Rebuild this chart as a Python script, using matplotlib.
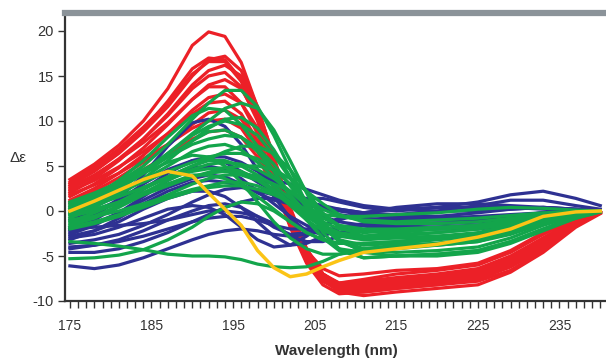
import matplotlib.pyplot as plt
from matplotlib.ticker import MultipleLocator

wavelength = [175, 178, 181, 184, 187, 190, 192, 194, 196, 198, 200, 202,
              204, 206, 208, 211, 215, 220, 225, 229, 233, 237, 240]

red_spectra = [
    [3.5, 5.2, 7.3, 10.0, 13.6, 18.4, 19.9, 19.4, 16.5, 11.5, 5.0, -1.0, -5.2, -7.6, -8.6, -8.5, -8.0, -7.6, -7.0, -5.6, -3.6, -1.4, -0.2],
    [2.8, 4.4, 6.4, 8.8, 11.6, 15.0, 16.8, 17.2, 15.6, 11.6, 5.8, -0.2, -4.6, -7.4, -8.8, -9.0, -8.6, -8.2, -7.8, -6.6, -4.4, -1.6, -0.2],
    [3.2, 4.9, 6.9, 9.3, 12.0, 15.2, 16.6, 16.6, 14.4, 10.2, 4.4, -1.2, -5.4, -7.8, -8.8, -8.6, -8.2, -7.8, -7.2, -5.8, -3.6, -1.2, 0.0],
    [2.0, 3.6, 5.6, 8.0, 10.8, 14.0, 15.6, 16.2, 15.0, 11.4, 6.0, 0.4, -4.2, -7.0, -8.4, -8.8, -8.4, -8.0, -7.4, -6.0, -3.8, -1.4, -0.2],
    [2.4, 3.9, 5.8, 8.0, 10.6, 13.6, 15.0, 15.4, 13.8, 10.0, 4.6, -0.8, -5.0, -7.6, -9.0, -9.4, -9.0, -8.6, -8.2, -6.8, -4.6, -1.8, -0.3],
    [1.6, 3.0, 4.8, 7.0, 9.6, 12.4, 14.0, 14.6, 13.6, 10.4, 5.6, 0.2, -4.2, -7.0, -8.2, -8.0, -7.6, -7.2, -6.6, -5.2, -3.2, -1.0, 0.0],
    [2.6, 4.0, 5.7, 7.6, 9.8, 12.4, 13.8, 13.8, 12.0, 8.6, 3.6, -1.6, -5.6, -7.8, -8.6, -8.2, -7.8, -7.4, -6.8, -5.4, -3.4, -1.2, -0.1],
    [1.2, 2.5, 4.2, 6.2, 8.6, 11.2, 12.6, 13.0, 12.0, 9.2, 4.8, -0.4, -4.6, -7.2, -8.6, -8.6, -8.2, -7.8, -7.4, -6.2, -4.2, -1.6, -0.2],
    [2.2, 3.4, 4.9, 6.6, 8.6, 10.8, 12.0, 12.2, 10.8, 7.8, 3.2, -1.8, -5.8, -8.2, -9.2, -9.0, -8.6, -8.2, -7.6, -6.2, -4.0, -1.4, -0.1],
    [1.0, 2.2, 3.7, 5.4, 7.4, 9.6, 10.9, 11.2, 10.2, 7.6, 3.6, -1.0, -4.8, -7.0, -8.0, -7.8, -7.4, -7.0, -6.4, -5.0, -3.0, -1.0, 0.0],
    [1.8, 2.9, 4.2, 5.8, 7.4, 9.2, 10.0, 10.2, 9.2, 6.6, 2.8, -1.6, -5.0, -7.2, -8.0, -7.6, -7.0, -6.6, -6.0, -4.6, -2.6, -0.8, 0.0],
    [0.8, 1.9, 3.2, 4.6, 6.2, 8.0, 8.8, 9.0, 8.2, 6.0, 2.6, -1.2, -4.4, -6.4, -7.2, -7.0, -6.6, -6.4, -5.8, -4.4, -2.4, -0.8, 0.0],
    [3.0, 4.6, 6.6, 9.0, 12.2, 15.8, 17.0, 16.8, 14.6, 10.8, 5.4, 0.0, -4.4, -7.0, -8.2, -8.2, -7.8, -7.4, -6.8, -5.2, -3.0, -1.0, 0.0],
]

green_spectra = [
    [0.6, 1.8, 3.2, 5.0, 7.4, 10.2, 12.0, 13.4, 13.4, 11.6, 8.4, 4.6, 0.8, -2.4, -4.2, -5.2, -5.0, -4.8, -4.4, -3.4, -2.0, -0.8, -0.1],
    [0.2, 1.6, 3.4, 5.6, 8.2, 10.6, 11.4, 11.2, 9.6, 7.2, 4.4, 1.6, -1.0, -3.0, -4.2, -4.6, -4.2, -3.8, -3.4, -2.6, -1.4, -0.4, 0.0],
    [-0.4, 0.8, 2.4, 4.2, 6.4, 8.4, 9.4, 10.0, 9.6, 8.4, 6.2, 3.6, 1.0, -1.4, -3.2, -4.2, -4.0, -3.6, -3.0, -2.2, -1.2, -0.4, 0.0],
    [1.0, 2.0, 3.2, 4.6, 6.0, 7.4, 8.0, 8.4, 8.2, 7.0, 5.2, 2.8, 0.4, -1.8, -3.2, -3.8, -3.6, -3.2, -2.8, -2.0, -1.0, -0.3, 0.0],
    [-0.8, 0.4, 1.8, 3.4, 5.0, 6.6, 7.2, 7.4, 6.8, 5.4, 3.8, 1.8, -0.2, -1.8, -2.8, -3.2, -3.0, -2.8, -2.4, -1.6, -0.8, -0.2, 0.0],
    [0.4, 1.2, 2.2, 3.2, 4.4, 5.4, 6.0, 6.4, 6.4, 5.8, 4.6, 3.0, 1.2, -0.4, -1.6, -2.2, -2.2, -2.0, -1.8, -1.2, -0.6, -0.2, 0.0],
    [-1.2, -0.2, 1.0, 2.4, 3.8, 5.0, 5.6, 5.6, 5.0, 4.0, 2.8, 1.4, 0.0, -1.2, -2.0, -2.4, -2.2, -2.0, -1.6, -1.0, -0.5, -0.2, 0.0],
    [-0.2, 0.6, 1.6, 2.6, 3.6, 4.4, 4.7, 4.8, 4.4, 3.6, 2.4, 1.0, -0.4, -1.6, -2.4, -2.8, -2.6, -2.4, -2.0, -1.4, -0.7, -0.2, 0.0],
    [-1.6, -0.8, 0.4, 1.8, 3.0, 4.0, 4.0, 3.6, 2.8, 1.6, 0.2, -1.2, -2.4, -3.2, -3.6, -3.6, -3.4, -3.0, -2.6, -1.8, -1.0, -0.3, 0.0],
    [-1.0, -0.6, 0.0, 0.8, 1.6, 2.4, 2.8, 3.2, 3.2, 2.8, 2.0, 0.8, -0.6, -1.8, -2.6, -3.0, -2.8, -2.4, -2.0, -1.4, -0.6, -0.2, 0.0],
    [0.8, 1.8, 3.0, 4.2, 5.4, 6.2, 6.0, 5.0, 3.2, 1.0, -1.2, -3.0, -4.2, -4.8, -4.8, -4.4, -4.0, -3.8, -3.4, -2.4, -1.2, -0.4, 0.0],
    [-2.0, -1.4, -0.6, 0.4, 1.4, 2.2, 2.6, 2.8, 2.8, 2.4, 1.8, 1.0, 0.2, -0.4, -0.6, -0.6, -0.4, -0.2, 0.2, 0.4, 0.3, 0.1, 0.0],
    [-0.6, 0.0, 0.8, 1.8, 2.8, 3.8, 4.2, 4.4, 4.2, 3.8, 3.0, 2.2, 1.2, 0.2, -0.6, -1.0, -1.2, -1.0, -0.8, -0.5, -0.2, -0.1, 0.0],
    [-3.4, -3.6, -3.9, -4.3, -4.8, -5.0, -5.0, -5.1, -5.4, -5.9, -6.2, -6.3, -6.2, -5.6, -4.8, -4.2, -3.8, -3.6, -3.2, -2.4, -1.4, -0.5, -0.1],
    [-5.3, -5.2, -4.9, -4.3, -3.2, -1.8, -0.6, 0.4, 1.0, 0.8, 0.0, -1.2, -2.4, -3.2, -3.6, -3.6, -3.4, -3.0, -2.6, -1.8, -1.0, -0.3, 0.0],
    [0.0, 1.2, 2.6, 4.2, 6.0, 7.8, 8.8, 9.0, 8.2, 6.6, 4.4, 1.8, -0.8, -3.0, -4.4, -5.2, -5.0, -4.8, -4.4, -3.4, -2.0, -0.6, 0.0],
    [-0.4, 0.2, 1.0, 2.0, 3.0, 3.8, 4.3, 4.8, 5.0, 5.0, 4.6, 3.6, 2.2, 0.8, -0.4, -1.2, -1.4, -1.4, -1.2, -0.8, -0.4, -0.1, 0.0],
    [-1.8, -1.2, -0.4, 0.6, 1.8, 3.0, 3.6, 4.0, 4.0, 3.4, 2.2, 0.6, -1.0, -2.2, -2.8, -2.8, -2.4, -2.0, -1.6, -1.0, -0.4, -0.1, 0.0],
    [0.2, 0.8, 1.6, 2.6, 3.8, 5.0, 5.8, 6.6, 7.2, 7.2, 6.4, 4.6, 2.2, -0.2, -1.8, -2.8, -3.0, -2.8, -2.6, -2.0, -1.0, -0.3, 0.0],
    [-0.2, 0.8, 2.0, 3.6, 5.6, 7.8, 9.2, 10.2, 10.4, 9.2, 6.8, 3.8, 0.8, -1.8, -3.4, -4.4, -4.6, -4.4, -4.0, -3.0, -1.6, -0.5, 0.0],
    [0.4, 1.4, 2.8, 4.4, 6.4, 8.6, 10.0, 11.4, 12.0, 11.4, 9.0, 5.6, 2.0, -1.2, -3.2, -4.6, -5.0, -5.0, -4.6, -3.6, -2.2, -0.8, -0.1],
    [-1.4, -0.6, 0.6, 2.0, 3.4, 4.6, 5.2, 5.4, 5.2, 4.6, 3.6, 2.2, 0.6, -0.8, -1.6, -2.0, -2.0, -1.8, -1.6, -1.1, -0.5, -0.1, 0.0],
]

blue_spectra = [
    [-2.0, -0.6, 1.4, 4.0, 7.2, 9.8, 10.2, 9.4, 7.4, 4.6, 1.6, -0.8, -2.2, -2.6, -2.4, -2.0, -1.6, -1.4, -1.2, -0.8, -0.4, -0.1, 0.0],
    [-6.1, -6.4, -6.0, -5.2, -4.2, -3.2, -2.6, -2.2, -2.0, -2.2, -2.6, -2.8, -2.6, -2.2, -1.8, -1.4, -1.0, -0.6, -0.2, 0.2, 0.4, 0.2, 0.0],
    [-1.8, -0.4, 1.2, 3.0, 4.6, 5.6, 5.8, 5.4, 4.4, 3.2, 2.2, 1.6, 1.4, 1.4, 1.0, 0.4, 0.0, 0.4, 1.0, 1.8, 2.2, 1.4, 0.6],
    [-2.4, -1.4, -0.2, 1.2, 2.6, 3.6, 4.0, 3.8, 3.0, 2.0, 1.2, 0.8, 0.6, 0.4, 0.2, -0.2, -0.4, 0.0, 0.6, 1.2, 1.2, 0.6, 0.2],
    [-3.0, -2.6, -1.8, -0.8, 0.2, 0.6, 0.4, -0.4, -1.8, -3.2, -4.0, -3.8, -2.8, -1.6, -0.8, -0.4, -0.4, -0.6, -0.8, -0.6, -0.2, 0.0, 0.0],
    [-4.2, -3.8, -3.2, -2.2, -1.0, 0.0, 0.6, 0.8, 0.4, -0.6, -1.8, -2.6, -2.4, -1.6, -0.8, -0.2, 0.2, 0.4, 0.4, 0.4, 0.2, 0.0, 0.0],
    [-2.6, -1.6, -0.2, 1.6, 3.4, 4.8, 5.0, 4.6, 3.6, 2.2, 0.8, -0.6, -1.6, -2.2, -2.4, -2.2, -2.0, -1.8, -1.6, -1.2, -0.6, -0.2, 0.0],
    [-4.6, -4.6, -4.2, -3.4, -2.4, -1.2, -0.4, 0.4, 1.0, 1.4, 1.4, 1.2, 0.8, 0.2, -0.4, -0.8, -1.0, -1.0, -0.8, -0.6, -0.2, 0.0, 0.0],
    [-3.6, -3.2, -2.6, -1.6, -0.4, 1.0, 1.8, 2.4, 2.6, 2.4, 1.8, 1.0, 0.2, -0.6, -1.2, -1.6, -1.8, -1.8, -1.6, -1.2, -0.6, -0.2, 0.0],
    [-2.2, -1.0, 0.6, 2.4, 4.2, 5.6, 6.0, 6.0, 5.4, 4.4, 3.2, 2.0, 1.0, 0.4, 0.0, -0.4, -0.8, -1.0, -1.0, -0.8, -0.4, -0.1, 0.0],
    [-2.8, -2.2, -1.2, 0.2, 1.4, 2.2, 2.2, 1.6, 0.4, -1.2, -2.8, -3.8, -3.6, -2.8, -2.0, -1.6, -1.4, -1.4, -1.2, -0.8, -0.4, -0.1, 0.0],
    [-4.0, -3.8, -3.4, -2.8, -2.0, -1.2, -0.8, -0.6, -0.6, -1.0, -1.6, -2.0, -2.0, -1.6, -1.0, -0.2, 0.4, 0.8, 0.8, 0.6, 0.4, 0.2, 0.0],
    [-2.0, -1.8, -1.6, -1.4, -1.0, -0.4, 0.0, 0.0, -0.2, -0.6, -1.4, -2.8, -3.4, -3.4, -2.8, -2.2, -2.0, -2.0, -2.0, -1.6, -0.8, -0.3, 0.0],
    [-1.0, 0.0, 1.2, 2.6, 3.8, 4.6, 4.8, 4.6, 4.2, 3.8, 3.4, 3.0, 2.4, 1.8, 1.2, 0.6, 0.2, 0.0, 0.0, 0.2, 0.4, 0.2, 0.0],
    [-3.2, -2.2, -0.8, 0.8, 2.2, 3.2, 3.4, 3.2, 2.8, 2.2, 1.8, 1.4, 1.0, 0.6, 0.2, -0.2, -0.6, -0.8, -0.6, -0.4, -0.2, 0.0, 0.0],
]

yellow_spectrum = [0.0, 1.1, 2.3, 3.5, 4.4, 3.9, 2.0, 0.2, -1.6, -4.4, -6.3, -7.3, -7.0, -6.2, -5.5,
                   -4.6, -4.2, -3.7, -2.9, -2.0, -0.6, -0.1, 0.0]

RED = "#ec2027"
GREEN = "#13a54b"
BLUE = "#2e3192"
YELLOW = "#fbc416"

plt.rcParams["font.family"] = ["Liberation Sans", "DejaVu Sans"]
plt.rcParams["axes.unicode_minus"] = False

fig = plt.figure(figsize=(6.06, 3.58), dpi=100)
ax = fig.add_axes([65 / 606, 57 / 358, 541 / 606, 288 / 358])

lw = 2.3
for s in red_spectra:
    ax.plot(wavelength, s, color=RED, lw=lw, solid_joinstyle="round")
for s in blue_spectra:
    ax.plot(wavelength, s, color=BLUE, lw=lw, solid_joinstyle="round")
for s in green_spectra:
    ax.plot(wavelength, s, color=GREEN, lw=lw, solid_joinstyle="round")
ax.plot(wavelength, yellow_spectrum, color=YELLOW, lw=lw + 0.2, solid_joinstyle="round")

ax.set_xlim(174.4, 240.7)
ax.set_ylim(-10, 22)
ax.set_xticks([175, 185, 195, 205, 215, 225, 235])
ax.xaxis.set_minor_locator(MultipleLocator(1))
ax.set_yticks([-10, -5, 0, 5, 10, 15, 20])

ax.tick_params(axis="x", which="both", direction="out", length=5, width=1,
               color="#333333", labelsize=10, labelcolor="#333333", pad=8)
ax.tick_params(axis="y", direction="out", length=5, width=1,
               color="#333333", labelsize=10.5, labelcolor="#333333", pad=3)

for side in ["left", "bottom"]:
    ax.spines[side].set_linewidth(1.6)
    ax.spines[side].set_color("#333333")
ax.spines["right"].set_visible(False)
ax.spines["top"].set_color("#8b9399")
ax.spines["top"].set_linewidth(4.5)

fig.text(18 / 606, 1 - 158 / 358, "Δε", fontsize=11, color="#333333",
         ha="center", va="center")
fig.text(336 / 606, 1 - 351 / 358, "Wavelength (nm)", fontsize=11,
         fontweight="bold", color="#333333", ha="center", va="center")

fig.savefig("out.png", dpi=100)
